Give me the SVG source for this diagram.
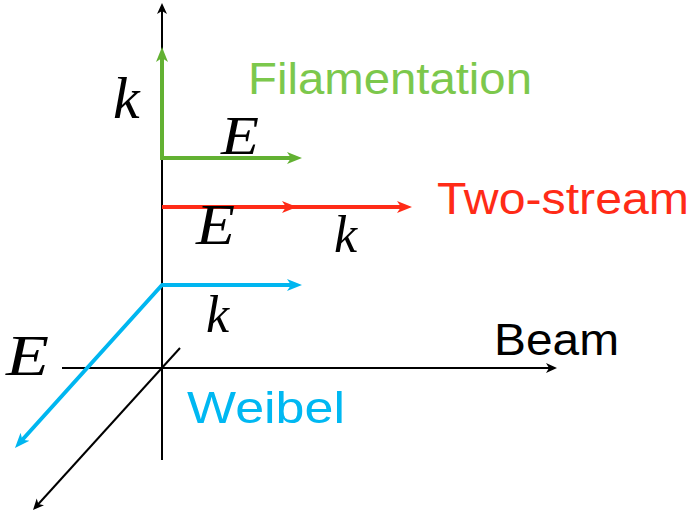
<svg xmlns="http://www.w3.org/2000/svg" width="693" height="515" viewBox="0 0 693 515">
  <style>
    .ax { fill: none; stroke: #000; stroke-width: 2; }
    .g { fill: none; stroke: #62b132; stroke-width: 4; }
    .r { fill: none; stroke: #ff2b17; stroke-width: 4; }
    .b { fill: none; stroke: #00b6f0; stroke-width: 4; stroke-linejoin: round; }
    .lbl { font-family: "Liberation Sans", Arial, sans-serif; font-size: 45px; }
    .math { font-family: "Liberation Serif", "Times New Roman", serif; font-style: italic; fill: #000; }
  </style>
  <defs>
    <marker id="ah-k" markerUnits="userSpaceOnUse" markerWidth="12" markerHeight="12" viewBox="0 -6 12 12" refX="7" refY="0" orient="auto-start-reverse">
      <path d="M0,-5 L11,0 L0,5 L3,0 z" fill="#000"/>
    </marker>
    <marker id="ah-g" markerUnits="userSpaceOnUse" markerWidth="16" markerHeight="14" viewBox="0 -7 16 14" refX="9" refY="0" orient="auto-start-reverse">
      <path d="M0,-6 L15,0 L0,6 L4,0 z" fill="#62b132"/>
    </marker>
    <marker id="ah-r" markerUnits="userSpaceOnUse" markerWidth="16" markerHeight="14" viewBox="0 -7 16 14" refX="9" refY="0" orient="auto-start-reverse">
      <path d="M0,-6 L15,0 L0,6 L4,0 z" fill="#ff2b17"/>
    </marker>
    <marker id="ah-b" markerUnits="userSpaceOnUse" markerWidth="16" markerHeight="14" viewBox="0 -7 16 14" refX="9" refY="0" orient="auto-start-reverse">
      <path d="M0,-6 L15,0 L0,6 L4,0 z" fill="#00b6f0"/>
    </marker>
  </defs>

  <g id="connectors">
    <g id="axes">
      <path class="ax" d="M162,460 L162,7" marker-end="url(#ah-k)"/>
      <path class="ax" d="M62,368 L553,368" marker-end="url(#ah-k)"/>
      <path class="ax" d="M180,348 L35.7,507" marker-end="url(#ah-k)"/>
    </g>
    <g id="filamentation-arrows">
      <path class="g" d="M162,158 L162,53" marker-end="url(#ah-g)"/>
      <path class="g" d="M160,158 L296,158" marker-end="url(#ah-g)"/>
    </g>
    <g id="twostream-arrows">
      <path class="r" d="M162,207 L406,207" marker-end="url(#ah-r)"/>
      <path d="M282,201 L297,207 L282,213 L286,207 z" fill="#ff2b17"/>
    </g>
    <g id="weibel-arrows">
      <path class="b" d="M296,285 L162,285 L19,443.5" marker-start="url(#ah-b)" marker-end="url(#ah-b)"/>
    </g>
  </g>

  <g id="filamentation">
    <text class="lbl" x="248" y="94" fill="#7cc84c" textLength="284" lengthAdjust="spacingAndGlyphs">Filamentation</text>
    <text class="math" x="113" y="118" font-size="60">k</text>
    <text class="math" x="221" y="154" font-size="54" textLength="38" lengthAdjust="spacingAndGlyphs">E</text>
  </g>
  <g id="two-stream">
    <text class="lbl" x="437" y="214" fill="#ff2b17" textLength="252" lengthAdjust="spacingAndGlyphs">Two-stream</text>
    <text class="math" x="196" y="244" font-size="56" textLength="39" lengthAdjust="spacingAndGlyphs">E</text>
    <text class="math" x="334" y="252" font-size="52">k</text>
  </g>
  <g id="weibel">
    <text class="lbl" x="187" y="423" fill="#00b8f2" textLength="158" lengthAdjust="spacingAndGlyphs">Weibel</text>
    <text class="math" x="206" y="332" font-size="52">k</text>
    <text class="math" x="6" y="375" font-size="56" textLength="43" lengthAdjust="spacingAndGlyphs">E</text>
  </g>
  <g id="beam">
    <text class="lbl" x="494" y="355" fill="#000" textLength="125" lengthAdjust="spacingAndGlyphs">Beam</text>
  </g>
</svg>
